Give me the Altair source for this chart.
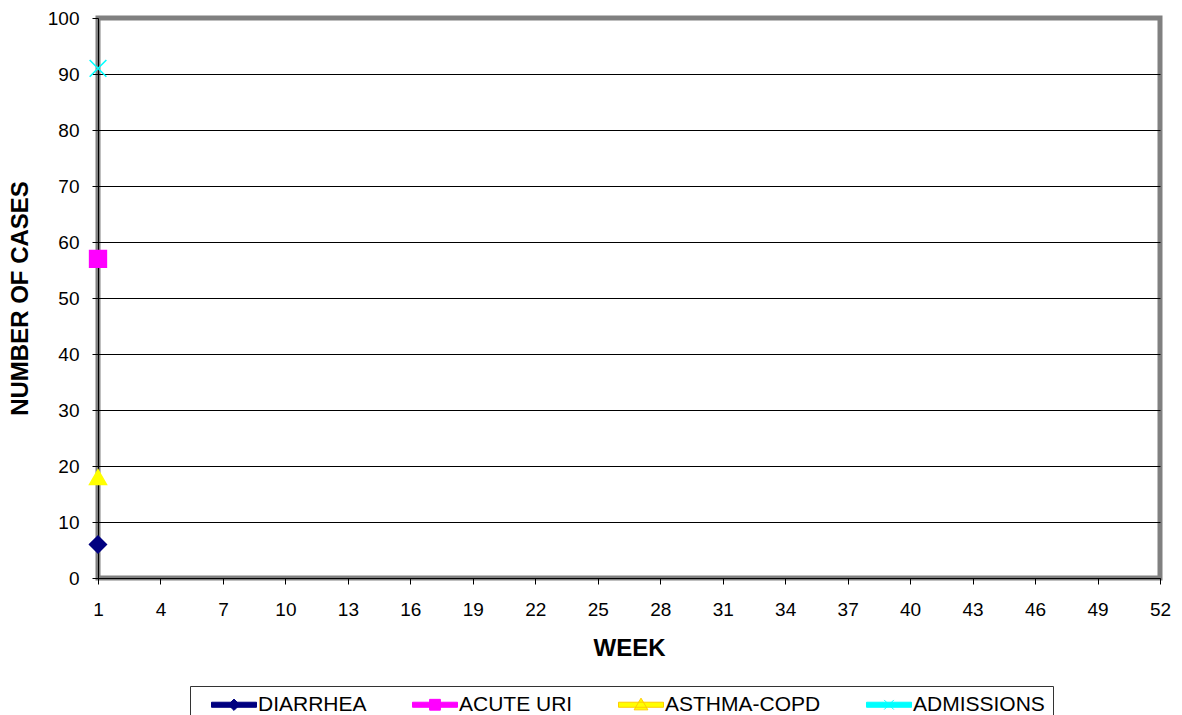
import altair as alt
import pandas as pd

# ---- data ----
series = ["DIARRHEA", "ACUTE URI", "ASTHMA-COPD", "ADMISSIONS"]
weeks = [1, 1, 1, 1]
cases = [6, 57, 18, 91]
marker_colors = ["#000080", "#FF00FF", "#FFFF00", "#00FFFF"]
marker_strokes = ["#000080", "#FF00FF", "#FFFF00", "#00FFFF"]
line_colors = ["#000080", "#FF00FF", "#FFCC00", "#00FFFF"]
week_ticks = list(range(1, 53, 3))
case_ticks = list(range(0, 101, 10))

# plot marker shapes
plot_shapes = [
    "diamond",
    "square",
    "triangle-up",
    "M-1,-1L1,1M-1,1L1,-1",
]
# legend symbols: line segment plus marker (unit coordinates)
bar = "M-1,-0.42H6.5V0.42H-1Z"
legend_shapes = [
    bar + "M2.75,-0.95L3.7,0L2.75,0.95L1.8,0Z",
    bar + "M1.85,-0.9H3.65V0.9H1.85Z",
    bar + "M2.75,-1.1L3.9,0.85H1.6Z",
    bar + "M1.95,-0.8L3.55,0.8M1.95,0.8L3.55,-0.8",
]

df = pd.DataFrame({"series": series, "week": weeks, "cases": cases})

FONT = "Liberation Sans"

x_enc = alt.X(
    "week:Q",
    scale=alt.Scale(domain=[1, 52], nice=False, zero=False),
    axis=alt.Axis(
        values=week_ticks, title="WEEK", grid=False,
        labelFontSize=19, titleFontSize=24, titleFontWeight="bold",
        tickSize=6, tickColor="black", domainColor="black",
        labelPadding=16, titlePadding=17, labelColor="black", titleColor="black",
        labelFont=FONT, titleFont=FONT, labelFlush=False,
    ),
)
y_enc = alt.Y(
    "cases:Q",
    scale=alt.Scale(domain=[0, 100], nice=False),
    axis=alt.Axis(
        values=case_ticks, title="NUMBER OF CASES", grid=True,
        gridColor={"condition": {"test": "datum.value == 100", "value": "#808080"}, "value": "black"},
        gridWidth=1, gridOpacity=1,
        labelFontSize=19, titleFontSize=24, titleFontWeight="bold",
        tickSize=6, tickColor="black", domainColor="black",
        labelPadding=13, titlePadding=15, labelColor="black", titleColor="black",
        labelFont=FONT, titleFont=FONT,
    ),
)

points = alt.Chart(df).mark_point(filled=True, size=280, strokeWidth=1.6, opacity=1).encode(
    x=x_enc,
    y=y_enc,
    shape=alt.Shape("series:N", sort=None, scale=alt.Scale(domain=series, range=plot_shapes), legend=None),
    fill=alt.Fill("series:N", sort=None, scale=alt.Scale(domain=series, range=marker_colors), legend=None),
    stroke=alt.Stroke("series:N", sort=None, scale=alt.Scale(domain=series, range=marker_strokes), legend=None),
)

leg = dict(
    title=None, orient="none", legendX=92, legendY=668, direction="horizontal",
    columns=0, padding=8, symbolSize=144, symbolOffset=9, labelOffset=30,
    columnPadding=32, labelFontSize=21, labelFont=FONT, labelColor="black",
    labelLimit=400, strokeColor="#333333", fillColor="white", symbolStrokeWidth=1,
    symbolOpacity=1,
)

legend_layer = alt.Chart(df).transform_filter("false").mark_point(filled=True, size=144, strokeWidth=1, opacity=1).encode(
    x="week:Q",
    y="cases:Q",
    shape=alt.Shape("series:N", sort=None, scale=alt.Scale(domain=series, range=legend_shapes), legend=alt.Legend(**leg)),
    fill=alt.Fill("series:N", sort=None, scale=alt.Scale(domain=series, range=marker_colors), legend=alt.Legend(**leg)),
    stroke=alt.Stroke("series:N", sort=None, scale=alt.Scale(domain=series, range=line_colors), legend=alt.Legend(**leg)),
)

chart = alt.layer(points, legend_layer).resolve_scale(
    shape="independent", fill="independent", stroke="independent"
).properties(
    width=1062, height=560,
    view=alt.ViewBackground(stroke="#808080", strokeWidth=5, fill="white"),
    autosize=alt.AutoSizeParams(type="none"),
    padding={"left": 90, "top": 10, "right": 14, "bottom": 140},
).configure_view(
    stroke="#808080", strokeWidth=5, fill="white"
).configure(background="white")

chart.save("out.html", embed_options={"renderer": "svg", "actions": False})
